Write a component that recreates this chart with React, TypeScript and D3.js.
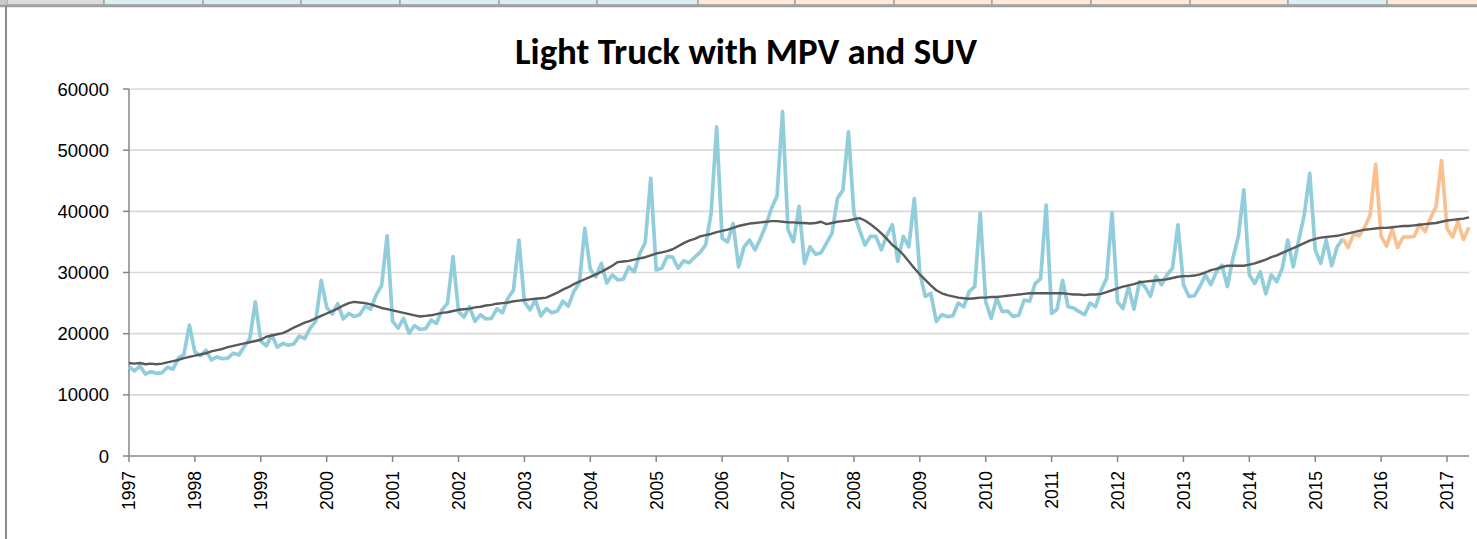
import * as d3 from "d3";

const yearLabels = [
  "1997", "1998", "1999", "2000", "2001", "2002", "2003", "2004", "2005", "2006", "2007",
  "2008", "2009", "2010", "2011", "2012", "2013", "2014", "2015", "2016", "2017",
];
const yTicks = [0, 10000, 20000, 30000, 40000, 50000, 60000];

// monthly sales, Jan 1997 .. Jun 2015 (blue)
const salesHistory = [
  14600, 13900, 14700, 13400, 13800, 13500, 13600, 14500, 14200, 16000, 16600, 21400,
  17000, 16400, 17300, 15700, 16200, 15900, 16000, 16800, 16500, 17900, 19200, 25200,
  18800, 18000, 19800, 17800, 18400, 18100, 18300, 19600, 19200, 20900, 22000, 28700,
  24300, 23200, 24900, 22400, 23300, 22800, 23100, 24500, 24000, 26300, 27900, 36000,
  22000, 20900, 22500, 20100, 21300, 20700, 20800, 22200, 21700, 23900, 25000, 32600,
  23600, 22700, 24400, 22000, 23100, 22400, 22500, 24100, 23400, 25800, 27100, 35300,
  25200, 23900, 25500, 22900, 24100, 23400, 23700, 25300, 24500, 26900, 28300, 37200,
  30500, 29300, 31500, 28300, 29600, 28800, 28900, 30900, 30100, 33100, 34900, 45400,
  30400, 30700, 32600, 32500, 30700, 31900, 31600, 32500, 33300, 34500, 39700, 53800,
  35600, 35000, 38000, 30900, 34200, 35300, 33700, 35600, 37800, 40500, 42500, 56300,
  37000, 35000, 40800, 31500, 34200, 33000, 33200, 34800, 36400, 42100, 43500, 53000,
  39700, 37000, 34500, 35900, 35900, 33700, 36100, 37800, 31800, 35900, 34200, 42100,
  29900, 26100, 26600, 22000, 23100, 22800, 22900, 25000, 24400, 26900, 27700, 39700,
  25200, 22500, 25800, 23600, 23700, 22800, 23000, 25500, 25300, 28200, 29000, 41000,
  23300, 24000, 28700, 24400, 24200, 23600, 23100, 25000, 24400, 27100, 29000, 39800,
  25200, 24100, 27700, 24000, 28500, 27700, 26100, 29400, 28000, 29600, 30700, 37800,
  28000, 26100, 26200, 27700, 29600, 28000, 30100, 31200, 27700, 32300, 35900, 43500,
  29600, 28200, 30100, 26500, 29600, 28500, 30700, 35300, 30900, 35300, 39400, 46200,
  33700, 31500, 35300, 31100, 34200, 35500,
];

// monthly sales, Jun 2015 .. May 2017 (orange)
const salesRecent = [
  35500, 34100, 36300, 36000, 37400, 39400, 47700,
  35900, 34300, 37100, 34100, 35800, 35800, 35900, 37800, 36700, 38900, 40800, 48300,
  37200, 35800, 38300, 35400, 37400,
];
const recentStart = salesHistory.length - 1;

// smoothed trend, Jan 1997 .. May 2017
const trend = [
  15200, 15100, 15200, 15000, 15100, 15000, 15100, 15300, 15500, 15700, 16000, 16200,
  16400, 16600, 16800, 17100, 17300, 17500, 17800, 18000, 18200, 18400, 18600, 18800,
  19000, 19500, 19700, 19900, 20100, 20500, 21000, 21400, 21800, 22100, 22500, 22900,
  23300, 23700, 24100, 24600, 25000, 25200, 25100, 25000, 24800, 24500, 24200, 24000,
  23800, 23600, 23400, 23200, 23000, 22800, 22900, 23000, 23200, 23400, 23500, 23700,
  23900, 24000, 24100, 24300, 24400, 24600, 24700, 24900, 25000, 25100, 25300, 25400,
  25500, 25600, 25700, 25800, 25900, 26300, 26700, 27200, 27600, 28100, 28500, 28900,
  29300, 29700, 30100, 30600, 31100, 31700, 31800, 31900, 32100, 32300, 32500, 32800,
  33100, 33300, 33500, 33800, 34300, 34800, 35200, 35500, 35900, 36100, 36300, 36600,
  36800, 37000, 37300, 37600, 37800, 38000, 38100, 38200, 38300, 38400, 38400, 38300,
  38200, 38200, 38100, 38100, 38000, 38100, 38300, 37900, 38100, 38300, 38400, 38500,
  38700, 38900, 38500, 37900, 37200, 36400, 35500, 34500, 33800, 32900, 31800, 30700,
  29700, 28800, 27900, 27100, 26600, 26300, 26100, 25900, 25800, 25700, 25800, 25900,
  25900, 26000, 26000, 26100, 26200, 26300, 26400, 26500, 26600, 26600, 26600, 26600,
  26600, 26600, 26600, 26500, 26400, 26400, 26300, 26400, 26400, 26500, 26800, 27100,
  27400, 27700, 27900, 28100, 28400, 28500, 28600, 28700, 28800, 28900, 29100, 29300,
  29400, 29400, 29500, 29700, 30000, 30400, 30600, 30900, 31100, 31100, 31100, 31100,
  31300, 31500, 31800, 32100, 32500, 32800, 33200, 33600, 34000, 34400, 34800, 35200,
  35500, 35700, 35800, 35900, 36000, 36200, 36400, 36600, 36800, 37000, 37100, 37200,
  37300, 37300, 37400, 37500, 37600, 37600, 37700, 37800, 37900, 38000, 38100, 38300,
  38500, 38600, 38700, 38800, 39000,
];

// spreadsheet column header strip above the chart
const headerCells = [
  { x0: 7, x1: 104, fill: "#dcdcdc" },
  { x0: 104, x1: 203, fill: "#daeef3" },
  { x0: 203, x1: 301, fill: "#daeef3" },
  { x0: 301, x1: 400, fill: "#daeef3" },
  { x0: 400, x1: 499, fill: "#daeef3" },
  { x0: 499, x1: 597, fill: "#daeef3" },
  { x0: 597, x1: 698, fill: "#daeef3" },
  { x0: 698, x1: 795, fill: "#fde9d9" },
  { x0: 795, x1: 894, fill: "#fde9d9" },
  { x0: 894, x1: 992, fill: "#fde9d9" },
  { x0: 992, x1: 1091, fill: "#fde9d9" },
  { x0: 1091, x1: 1190, fill: "#fde9d9" },
  { x0: 1190, x1: 1288, fill: "#fde9d9" },
  { x0: 1288, x1: 1387, fill: "#daeef3" },
  { x0: 1387, x1: 1486, fill: "#fde9d9" },
];

const width = 1477;
const height = 539;
const plot = { left: 129, right: 1469, top: 89, bottom: 456 };
const labelFont = "'Liberation Sans', Arial, sans-serif";

export default function App() {
  const x = d3.scaleLinear().domain([0, trend.length - 1]).range([plot.left, plot.right]);
  const y = d3.scaleLinear().domain([0, 60000]).range([plot.bottom, plot.top]);

  const line = d3
    .line<number>()
    .x((_, i) => x(i))
    .y((d) => y(d));
  const recentLine = d3
    .line<number>()
    .x((_, i) => x(recentStart + i))
    .y((d) => y(d));

  return (
    <svg
      width={width}
      height={height}
      style={{ position: "absolute", left: 0, top: 0, background: "#fff" }}
    >
      {headerCells.map((c) => (
        <rect key={c.x0} x={c.x0} y={-1} width={c.x1 - c.x0} height={6} fill={c.fill} stroke="#a6a6a6" strokeWidth={1.5} />
      ))}
      <rect x={0} y={-1} width={7} height={6} fill="#c8c8c8" />
      <line x1={0} x2={width} y1={6} y2={6} stroke="#a0a0a0" strokeWidth={2.5} />
      <line x1={6} x2={6} y1={6} y2={height} stroke="#8c8c8c" strokeWidth={2} />

      <text
        x={746}
        y={64}
        textAnchor="middle"
        fontFamily="Carlito, Calibri, Lato, sans-serif"
        fontWeight="bold"
        fontSize={36}
        textLength={462}
        lengthAdjust="spacingAndGlyphs"
        fill="#000"
      >
        Light Truck with MPV and SUV
      </text>

      <g>
        {yTicks.slice(1).map((t) => (
          <line key={t} x1={plot.left} x2={plot.right} y1={y(t)} y2={y(t)} stroke="#d9d9d9" strokeWidth={1.6} />
        ))}
      </g>

      <g fontFamily={labelFont} fill="#000">
        {yTicks.map((t) => (
          <g key={t}>
            <line x1={plot.left - 6} x2={plot.left} y1={y(t)} y2={y(t)} stroke="#868686" strokeWidth={1.5} />
            <text x={109} y={y(t)} dy="0.36em" textAnchor="end" fontSize={18.5}>
              {t}
            </text>
          </g>
        ))}
        {yearLabels.map((label, k) => {
          const tx = x(k * 12);
          return (
            <g key={label}>
              <line x1={tx} x2={tx} y1={plot.bottom} y2={plot.bottom + 6} stroke="#868686" strokeWidth={1.5} />
              <text transform={`translate(${tx},471) rotate(-90)`} dy="0.36em" textAnchor="end" fontSize={17.5}>
                {label}
              </text>
            </g>
          );
        })}
      </g>

      <line x1={plot.left} x2={plot.left} y1={plot.top} y2={plot.bottom} stroke="#868686" strokeWidth={1.5} />
      <line x1={plot.left} x2={plot.right} y1={plot.bottom} y2={plot.bottom} stroke="#868686" strokeWidth={1.5} />

      <path d={line(salesHistory) ?? ""} fill="none" stroke="#92cddc" strokeWidth={3.7} strokeLinejoin="round" />
      <path d={recentLine(salesRecent) ?? ""} fill="none" stroke="#fac090" strokeWidth={3.7} strokeLinejoin="round" />
      <path d={line(trend) ?? ""} fill="none" stroke="#595959" strokeWidth={2.4} strokeLinejoin="round" />
    </svg>
  );
}
